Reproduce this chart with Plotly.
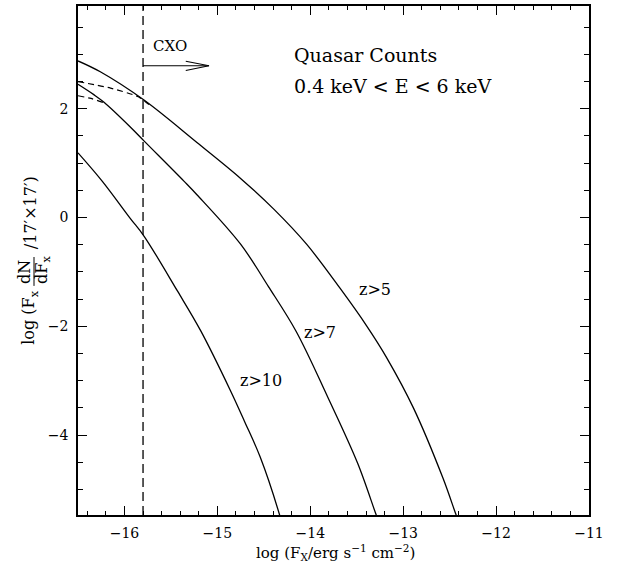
import plotly.graph_objects as go

# ---------------- data ----------------
log_fx_z5 = [-16.5, -16.26, -15.79, -15.22, -14.75, -14.39, -14.04, -13.68, -13.39, -13.18, -12.89, -12.57, -12.43, -12.40]
log_n_z5 = [2.88, 2.68, 2.16, 1.38, 0.72, 0.15, -0.49, -1.30, -2.00, -2.57, -3.50, -4.80, -5.47, -5.60]

log_fx_z7 = [-16.5, -16.33, -16.22, -15.94, -15.79, -15.36, -15.22, -14.75, -14.45, -14.15, -13.81, -13.49, -13.29, -13.26]
log_n_z7 = [2.45, 2.26, 2.12, 1.67, 1.41, 0.67, 0.42, -0.49, -1.27, -2.10, -3.31, -4.52, -5.47, -5.60]

log_fx_z10 = [-16.5, -16.24, -15.94, -15.79, -15.43, -15.18, -14.86, -14.71, -14.54, -14.33, -14.31]
log_n_z10 = [1.19, 0.67, -0.01, -0.34, -1.35, -2.08, -3.18, -3.74, -4.40, -5.47, -5.60]

# alternative (dashed) faint-end branches
log_fx_z5_alt = [-16.5, -16.15, -15.85, -15.70]
log_n_z5_alt = [2.50, 2.38, 2.22, 2.03]
log_fx_z7_alt = [-16.5, -16.36, -16.22]
log_n_z7_alt = [2.24, 2.19, 2.11]

curve_labels = ["z&gt;5", "z&gt;7", "z&gt;10"]
label_x = [-13.30, -13.90, -14.53]
label_y = [-1.33, -2.12, -3.00]

cxo_limit = -15.8
cxo_arrow_end = -15.09
cxo_arrow_y = 2.79

x_range = [-16.5, -11.0]
y_range = [-5.47, 3.89]
x_ticks = [-16, -15, -14, -13, -12, -11]
y_ticks = [-4, -2, 0, 2]

# ---------------- styling ----------------
FONT = "DejaVu Serif"
INK = "black"
W, H = 618, 568
ML, MR, MT, MB = 78, 29, 4, 53
PW, PH = W - ML - MR, H - MT - MB


def px_to_paper(px, py):
    return (px - ML) / PW, (H - MB - py) / PH


fig = go.Figure()

solid = dict(color=INK, width=1.3)
for xs, ys in [(log_fx_z5, log_n_z5), (log_fx_z7, log_n_z7), (log_fx_z10, log_n_z10)]:
    fig.add_trace(go.Scatter(x=xs, y=ys, mode="lines", line=dict(**solid, shape="spline", smoothing=1.0),
                             hoverinfo="skip", showlegend=False))

for xs, ys in [(log_fx_z5_alt, log_n_z5_alt), (log_fx_z7_alt, log_n_z7_alt)]:
    fig.add_trace(go.Scatter(x=xs, y=ys, mode="lines",
                             line=dict(color=INK, width=1.2, dash="6px,4px", shape="spline", smoothing=0.6),
                             hoverinfo="skip", showlegend=False))

# CXO limit
fig.add_vline(x=cxo_limit, line=dict(color=INK, width=1.3, dash="9px,5px"))

# CXO arrow (shaft + open head)
head_len = 0.25
head_half = 0.085
fig.add_trace(go.Scatter(
    x=[cxo_limit, cxo_arrow_end, None, cxo_arrow_end - head_len, cxo_arrow_end, cxo_arrow_end - head_len],
    y=[cxo_arrow_y, cxo_arrow_y, None, cxo_arrow_y + head_half, cxo_arrow_y, cxo_arrow_y - head_half],
    mode="lines", line=dict(color=INK, width=1.1), hoverinfo="skip", showlegend=False))

# curve labels
for t, lx, ly in zip(curve_labels, label_x, label_y):
    fig.add_annotation(x=lx, y=ly, text=t, showarrow=False, xanchor="center", yanchor="middle",
                       font=dict(family=FONT, size=16, color=INK))

fig.add_annotation(x=-15.51, y=3.16, text="CXO", showarrow=False, xanchor="center", yanchor="middle",
                   font=dict(family=FONT, size=15, color=INK))
fig.add_annotation(x=-14.20, y=2.98, text="Quasar Counts", showarrow=False, xanchor="left", yanchor="middle",
                   font=dict(family=FONT, size=19, color=INK))
fig.add_annotation(x=-14.20, y=2.41, text="0.4 keV &lt; E &lt; 6 keV", showarrow=False, xanchor="left",
                   yanchor="middle", font=dict(family=FONT, size=19, color=INK))

# x-axis title
tx, ty = px_to_paper(335, 553)
fig.add_annotation(xref="paper", yref="paper", x=tx, y=ty, showarrow=False, xanchor="center", yanchor="middle",
                   text="log (F<sub>X</sub>/erg s<sup>−1</sup> cm<sup>−2</sup>)",
                   font=dict(family=FONT, size=15, color=INK))

# y-axis title, built with a stacked fraction
yfont = dict(family=FONT, size=16, color=INK)
ax_, ay_ = px_to_paper(30, 317)
fig.add_annotation(xref="paper", yref="paper", x=ax_, y=ay_, text="log (F<sub>x</sub>", textangle=-90,
                   showarrow=False, xanchor="center", yanchor="middle", font=yfont)
ax_, ay_ = px_to_paper(25, 271)
fig.add_annotation(xref="paper", yref="paper", x=ax_, y=ay_, text="dN", textangle=-90,
                   showarrow=False, xanchor="center", yanchor="middle", font=yfont)
ax_, ay_ = px_to_paper(43, 269)
fig.add_annotation(xref="paper", yref="paper", x=ax_, y=ay_, text="dF<sub>x</sub>", textangle=-90,
                   showarrow=False, xanchor="center", yanchor="middle", font=yfont)
bx0, by0 = px_to_paper(34, 285)
bx1, by1 = px_to_paper(34, 256)
fig.add_shape(type="line", xref="paper", yref="paper", x0=bx0, y0=by0, x1=bx1, y1=by1,
              line=dict(color=INK, width=1))
ax_, ay_ = px_to_paper(30, 212)
fig.add_annotation(xref="paper", yref="paper", x=ax_, y=ay_, text="/17′×17′)", textangle=-90,
                   showarrow=False, xanchor="center", yanchor="middle", font=yfont)

axis_common = dict(showline=True, linecolor=INK, linewidth=1.5, mirror="allticks", ticks="inside",
                   ticklen=9, tickwidth=1, tickcolor=INK, showgrid=False, zeroline=False,
                   tickfont=dict(family=FONT, size=14, color=INK))

fig.update_xaxes(range=x_range, tickvals=x_ticks, ticklabelstandoff=4,
                 minor=dict(dtick=0.2, tick0=-16, ticks="inside", ticklen=4, tickcolor=INK, tickwidth=1),
                 **axis_common)
fig.update_yaxes(range=y_range, tickvals=y_ticks, ticklabelstandoff=5,
                 minor=dict(dtick=0.5, tick0=0, ticks="inside", ticklen=5, tickcolor=INK, tickwidth=1),
                 **axis_common)

fig.update_layout(width=W, height=H, margin=dict(l=ML, r=MR, t=MT, b=MB),
                  paper_bgcolor="white", plot_bgcolor="white", showlegend=False,
                  font=dict(family=FONT, color=INK))

fig.write_html("out.html", config={"displayModeBar": False},
               post_script="document.body.style.margin='0';document.body.style.padding='0';")
